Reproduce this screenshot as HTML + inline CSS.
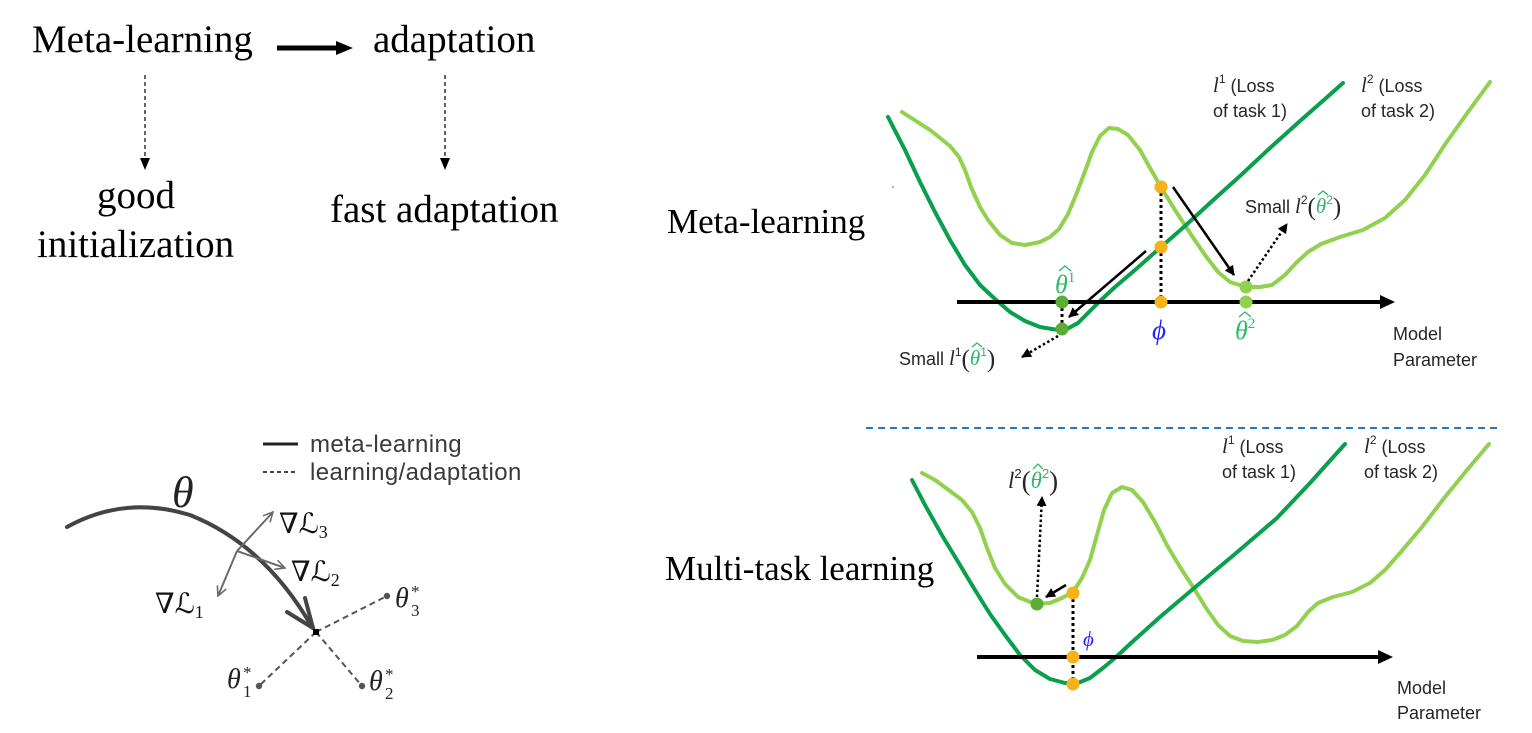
<!DOCTYPE html>
<html><head><meta charset="utf-8"><style>
html,body{margin:0;padding:0;background:#fff;}
svg{display:block;}
.ser{font-family:"Liberation Serif",serif;}
.sans{font-family:"Liberation Sans",sans-serif;}
</style></head><body>
<svg width="1532" height="733" viewBox="0 0 1532 733" xmlns="http://www.w3.org/2000/svg">
<defs>
<marker id="ah" viewBox="0 0 10 10" refX="9" refY="5" markerWidth="4" markerHeight="4" orient="auto" markerUnits="strokeWidth"><path d="M0,0 L10,5 L0,10 z" fill="#000"/></marker>
<marker id="oh" viewBox="0 0 10 10" refX="9" refY="5" markerWidth="6" markerHeight="6" orient="auto" markerUnits="strokeWidth"><path d="M1,1 L9,5 L1,9" fill="none" stroke="#6b6b6b" stroke-width="1.3"/></marker>
</defs>
<rect width="1532" height="733" fill="#fff"/>

<!-- ===== Top-left ===== -->
<g class="ser" font-size="39" fill="#000">
<text x="32" y="52">Meta-learning</text>
<text x="373" y="52">adaptation</text>
<text x="97" y="208">good</text>
<text x="37" y="257">initialization</text>
<text x="330" y="222">fast adaptation</text>
</g>
<line x1="277" y1="48" x2="338" y2="48" stroke="#000" stroke-width="5"/>
<polygon points="336,41 353,48 336,55" fill="#000"/>
<line x1="145" y1="75" x2="145" y2="160" stroke="#000" stroke-width="1.2" stroke-dasharray="4,3"/>
<polygon points="140,158 150,158 145,170" fill="#000"/>
<line x1="445" y1="75" x2="445" y2="160" stroke="#000" stroke-width="1.2" stroke-dasharray="4,3"/>
<polygon points="440,158 450,158 445,170" fill="#000"/>

<!-- ===== Bottom-left ===== -->
<line x1="263" y1="444" x2="298" y2="444" stroke="#222" stroke-width="3"/>
<line x1="263" y1="472" x2="298" y2="472" stroke="#444" stroke-width="2" stroke-dasharray="4,3"/>
<g class="sans" font-size="24" fill="#3a3a3a" letter-spacing="0.4">
<text x="310" y="452">meta-learning</text>
<text x="310" y="480">learning/adaptation</text>
</g>
<text x="172" y="507" class="ser" font-style="italic" font-size="44" fill="#222">θ</text>
<path d="M67,527 Q125,495 190,515 Q265,545 312,627" fill="none" stroke="#444" stroke-width="4" stroke-linecap="round"/>
<line x1="287" y1="612" x2="313" y2="628" stroke="#444" stroke-width="4" stroke-linecap="round"/>
<line x1="305" y1="598" x2="313" y2="628" stroke="#444" stroke-width="4" stroke-linecap="round"/>
<line x1="237" y1="551" x2="273" y2="512" stroke="#6b6b6b" stroke-width="2" marker-end="url(#oh)"/>
<line x1="237" y1="551" x2="218" y2="596" stroke="#6b6b6b" stroke-width="2" marker-end="url(#oh)"/>
<line x1="237" y1="551" x2="285" y2="568" stroke="#6b6b6b" stroke-width="2" marker-end="url(#oh)"/>
<g fill="#111">
<text x="279" y="533"><tspan font-family="DejaVu Serif" font-size="28">∇</tspan><tspan font-family="DejaVu Sans" font-style="italic" font-size="28">ℒ</tspan><tspan class="ser" font-size="18" dy="5">3</tspan></text>
<text x="291" y="581"><tspan font-family="DejaVu Serif" font-size="28">∇</tspan><tspan font-family="DejaVu Sans" font-style="italic" font-size="28">ℒ</tspan><tspan class="ser" font-size="18" dy="5">2</tspan></text>
<text x="155" y="613"><tspan font-family="DejaVu Serif" font-size="28">∇</tspan><tspan font-family="DejaVu Sans" font-style="italic" font-size="28">ℒ</tspan><tspan class="ser" font-size="18" dy="5">1</tspan></text>
</g>
<g stroke="#555" stroke-width="2" stroke-dasharray="6,4">
<line x1="316" y1="632" x2="387" y2="596"/>
<line x1="316" y1="632" x2="259" y2="686"/>
<line x1="316" y1="632" x2="362" y2="686"/>
</g>
<rect x="313" y="629" width="6" height="6" fill="#000"/>
<circle cx="387" cy="596" r="3.2" fill="#555"/>
<circle cx="259" cy="686" r="3.2" fill="#555"/>
<circle cx="362" cy="686" r="3.2" fill="#555"/>
<g class="ser" fill="#222">
<text x="395" y="607" font-style="italic" font-size="28">θ</text><text x="411" y="597" font-size="17">*</text><text x="411" y="616" font-size="17">3</text>
<text x="227" y="688" font-style="italic" font-size="28">θ</text><text x="243" y="678" font-size="17">*</text><text x="243" y="697" font-size="17">1</text>
<text x="369" y="690" font-style="italic" font-size="28">θ</text><text x="385" y="680" font-size="17">*</text><text x="385" y="699" font-size="17">2</text>
</g>

<!-- ===== Right labels ===== -->
<text x="667" y="233" class="ser" font-size="35" fill="#000">Meta-learning</text>
<text x="665" y="580" class="ser" font-size="35" fill="#000">Multi-task learning</text>
<circle cx="893" cy="187" r="1" fill="#999"/>
<line x1="866" y1="428" x2="1500" y2="428" stroke="#2e75b6" stroke-width="2" stroke-dasharray="7,5"/>

<!-- ===== Top chart ===== -->
<polyline fill="none" stroke="#92d050" stroke-width="4" stroke-linejoin="round" stroke-linecap="round" points="902,112 930,130 950,146 959,157 965,170 971,187 980,207 988,220 1000,235 1012,243 1025,245 1040,242 1050,237 1059,229 1068,214 1076,195 1084,174 1092,152 1100,136 1109,128 1118,129 1128,135 1140,150 1150,168 1161,187 1175,210 1190,233 1205,255 1218,272 1230,282 1246,287 1260,287 1272,285 1285,275 1296,263 1308,252 1321,244 1340,237 1363,230 1385,218 1405,200 1425,175 1446,143 1468,112 1490,82"/>
<polyline fill="none" stroke="#0a9f4c" stroke-width="4" stroke-linejoin="round" stroke-linecap="round" points="888,117 905,150 920,182 935,212 950,240 965,265 980,285 995,299 1010,312 1025,321 1040,327 1055,329.5 1067,329 1078,323 1090,311 1100,301 1115,287 1135,270 1161,247 1185,226 1210,203 1240,176 1270,148 1300,121 1325,99 1343,83"/>
<line x1="957" y1="302" x2="1385" y2="302" stroke="#000" stroke-width="4"/>
<polygon points="1380,295 1395,302 1380,309" fill="#000"/>
<g stroke="#000" stroke-width="3" stroke-dasharray="3,3">
<line x1="1161" y1="187" x2="1161" y2="302"/>
<line x1="1062" y1="302" x2="1062" y2="329"/>
</g>
<circle cx="1161" cy="187" r="6.5" fill="#f5b21a"/>
<circle cx="1161" cy="247" r="6.5" fill="#f5b21a"/>
<circle cx="1161" cy="302" r="6.5" fill="#f5b21a"/>
<circle cx="1062" cy="302" r="6.5" fill="#5cad35"/>
<circle cx="1062" cy="329" r="6.5" fill="#5cad35"/>
<circle cx="1246" cy="287" r="6.5" fill="#92d050"/>
<circle cx="1246" cy="302" r="6.5" fill="#92d050"/>
<line x1="1173" y1="187" x2="1234" y2="275" stroke="#000" stroke-width="2.5" marker-end="url(#ah)"/>
<line x1="1146" y1="251" x2="1069" y2="317" stroke="#000" stroke-width="2.5" marker-end="url(#ah)"/>
<line x1="1058" y1="336" x2="1022" y2="357" stroke="#000" stroke-width="2.5" stroke-dasharray="2.5,2.5" marker-end="url(#ah)"/>
<line x1="1248" y1="281" x2="1287" y2="224" stroke="#000" stroke-width="2.5" stroke-dasharray="2.5,2.5" marker-end="url(#ah)"/>
<g class="sans" font-size="18" fill="#262626">
<text x="1213" y="92"><tspan class="ser" font-style="italic" font-size="21">l</tspan><tspan font-size="12" dy="-9">1</tspan><tspan dy="9"> (Loss</tspan></text>
<text x="1213" y="117">of task 1)</text>
<text x="1361" y="92"><tspan class="ser" font-style="italic" font-size="21">l</tspan><tspan font-size="12" dy="-9">2</tspan><tspan dy="9"> (Loss</tspan></text>
<text x="1361" y="117">of task 2)</text>
<text x="1393" y="340">Model</text>
<text x="1393" y="366">Parameter</text>
<text x="1245" y="213">Small <tspan class="ser" font-style="italic" font-size="21">l</tspan><tspan font-size="12" dy="-9">2</tspan><tspan class="ser" font-size="25" dy="11">(</tspan><tspan class="ser" font-style="italic" font-size="21" fill="#2eb86a" dy="-2">θ</tspan><tspan font-size="12" fill="#2eb86a" dy="-9">2</tspan><tspan class="ser" font-size="25" dy="11">)</tspan></text>
<text x="899" y="365">Small <tspan class="ser" font-style="italic" font-size="21">l</tspan><tspan font-size="12" dy="-9">1</tspan><tspan class="ser" font-size="25" dy="11">(</tspan><tspan class="ser" font-style="italic" font-size="21" fill="#2eb86a" dy="-2">θ</tspan><tspan font-size="12" fill="#2eb86a" dy="-9">1</tspan><tspan class="ser" font-size="25" dy="11">)</tspan></text>
</g>
<g fill="none" stroke="#2eb86a" stroke-width="1.3">
<path d="M1318,195 L1323,191 L1328,195"/>
<path d="M972,347 L977,343 L982,347"/>
<path d="M1059,271 L1065,266 L1071,271"/>
<path d="M1239,317 L1245,312 L1251,317"/>
<path d="M1033,469 L1038,464 L1043,469"/>
</g>
<text x="1055" y="293" class="ser" fill="#2eb86a"><tspan font-style="italic" font-size="26">θ</tspan><tspan font-size="15" dy="-11">1</tspan></text>
<text x="1235" y="339" class="ser" fill="#2eb86a"><tspan font-style="italic" font-size="26">θ</tspan><tspan font-size="15" dy="-11">2</tspan></text>
<text x="1152" y="339" class="ser" font-style="italic" font-size="27" fill="#1f1fff">ϕ</text>

<!-- ===== Bottom chart ===== -->
<polyline fill="none" stroke="#92d050" stroke-width="4" stroke-linejoin="round" stroke-linecap="round" points="922,473 935,480 950,491 962,500 972,512 980,528 987,548 995,568 1005,584 1018,597 1035,604 1050,603 1062,598 1073,592 1082,578 1090,560 1097,535 1104,510 1112,493 1122,487 1132,490 1143,502 1155,522 1168,547 1180,567 1193,587 1206,608 1218,625 1230,636 1243,641 1258,642 1272,640 1285,635 1297,626 1308,612 1318,603 1333,597 1352,592 1370,583 1385,570 1400,553 1422,527 1445,497 1467,470 1489,444"/>
<polyline fill="none" stroke="#0a9f4c" stroke-width="4" stroke-linejoin="round" stroke-linecap="round" points="912,480 925,505 943,537 960,565 975,590 990,614 1005,635 1020,655 1035,670 1050,679 1065,683 1078,683 1090,678 1103,668 1115,658 1130,644 1160,617 1193,589 1235,554 1277,518 1310,483 1345,444"/>
<line x1="977" y1="657" x2="1383" y2="657" stroke="#000" stroke-width="4"/>
<polygon points="1378,650 1393,657 1378,664" fill="#000"/>
<line x1="1073" y1="593" x2="1073" y2="684" stroke="#000" stroke-width="3" stroke-dasharray="3,3"/>
<circle cx="1073" cy="593" r="6.5" fill="#f5b21a"/>
<circle cx="1073" cy="657" r="6.5" fill="#f5b21a"/>
<circle cx="1073" cy="684" r="6.5" fill="#f5b21a"/>
<circle cx="1037" cy="604" r="6.5" fill="#5cad35"/>
<line x1="1066" y1="585" x2="1046" y2="597" stroke="#000" stroke-width="2.5" marker-end="url(#ah)"/>
<line x1="1037" y1="597" x2="1042" y2="497" stroke="#000" stroke-width="2.5" stroke-dasharray="2.5,2.5" marker-end="url(#ah)"/>
<g class="sans" font-size="18" fill="#262626">
<text x="1222" y="453"><tspan class="ser" font-style="italic" font-size="21">l</tspan><tspan font-size="12" dy="-9">1</tspan><tspan dy="9"> (Loss</tspan></text>
<text x="1222" y="478">of task 1)</text>
<text x="1364" y="453"><tspan class="ser" font-style="italic" font-size="21">l</tspan><tspan font-size="12" dy="-9">2</tspan><tspan dy="9"> (Loss</tspan></text>
<text x="1364" y="478">of task 2)</text>
<text x="1397" y="694">Model</text>
<text x="1397" y="719">Parameter</text>
</g>
<text x="1008" y="488" class="ser" fill="#262626"><tspan font-style="italic" font-size="23">l</tspan><tspan font-family="Liberation Sans" font-size="13" dy="-10">2</tspan><tspan font-size="27" dy="12">(</tspan><tspan font-style="italic" font-size="23" fill="#2eb86a" dy="-2">θ</tspan><tspan font-family="Liberation Sans" font-size="13" fill="#2eb86a" dy="-10">2</tspan><tspan font-size="27" dy="12">)</tspan></text>
<text x="1083" y="646" class="ser" font-style="italic" font-size="21" fill="#1f1fff">ϕ</text>
</svg>
</body></html>
